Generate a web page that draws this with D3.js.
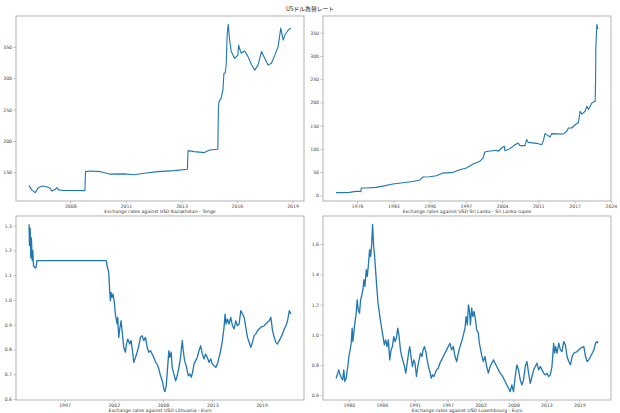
<!DOCTYPE html>
<html><head><meta charset="utf-8">
<script src="https://cdn.jsdelivr.net/npm/d3@7"></script>
<style>body{margin:0;background:#fff} svg{display:block}</style>
</head><body><svg id="c" width="620" height="413"></svg>
<script>
const titleText = "USドル為替レート";

// Kazakhstan - Tenge
const kzLabel = "Exchange rates against USD Kazakhstan - Tenge";
const kzYears = [2006.30,2006.43,2006.60,2006.76,2006.93,2007.17,2007.34,2007.42,2007.59,2007.67,2007.75,2008.00,2008.50,2009.05,2009.08,2009.32,2009.82,2010.31,2010.97,2011.47,2011.96,2012.63,2013.45,2014.10,2014.13,2014.44,2014.94,2015.19,2015.60,2015.63,2015.66,2015.76,2015.85,2015.90,2015.96,2016.01,2016.06,2016.11,2016.18,2016.26,2016.42,2016.59,2016.62,2016.75,2016.92,2017.09,2017.25,2017.42,2017.58,2017.75,2017.91,2018.08,2018.24,2018.41,2018.57,2018.70,2018.82,2018.90,2019.07,2019.20];
const kzValues = [128.7,122,117.6,125.5,128,127,124.5,120,123,125.5,122,121,121,120.8,151,152,151,147,147.5,146,148.5,151,152.7,154.8,184.6,183,181.4,185.6,186.7,254.8,262.8,268,281,308,308,321,369,386,361,342.6,332,337,353,340,343.6,334.6,322,313,321,342.6,332,321,324,337,350.6,380,361,369,377,380];
const kzTickYears = [2008.33,2011.07,2013.81,2016.54,2019.28];
const kzTickLabels = ["2008","2011","2013","2016","2019"];
const kzYTicks = [150,200,250,300,350];

// Sri Lanka - Sri Lanka rupee
const lkLabel = "Exchange rates against USD Sri Lanka - Sri Lanka rupee";
const lkYears = [1972.86,1974.12,1975.38,1976.64,1977.28,1977.55,1977.60,1978.54,1980.43,1981.70,1983.59,1985.48,1987.38,1988.64,1989.27,1990.53,1991.80,1993.06,1994.95,1996.22,1997.48,1998.74,2000.00,2000.63,2000.95,2001.58,2003.16,2003.48,2004.11,2004.61,2004.74,2005.69,2006.63,2007.26,2007.58,2008.53,2008.84,2009.16,2010.74,2011.68,2012.00,2012.31,2012.63,2013.26,2013.58,2015.79,2016.42,2016.73,2017.36,2018.00,2018.63,2018.94,2019.26,2019.89,2020.21,2020.52,2021.15,2021.78,2021.86,2021.91,2022.10,2022.30];
const lkValues = [6.0,6.0,6.5,8.6,8.9,7.9,15.8,15.8,17.2,20,24.4,27.3,30,33,39.5,40.2,42.4,48,49.6,55.3,59,67.5,73.3,80.5,93.4,95,97,95,102,106,96,100.6,109,112.8,107,107,120,114,112,109,117.8,133,130.7,125.7,133,132,138,145,145,152,157,181,175,181,192,184.7,199,202.6,245,317.5,368,358];
const lkTickYears = [1976.84,1983.69,1990.53,1997.38,2004.22,2011.07,2017.91,2024.76];
const lkTickLabels = ["1976","1983","1990","1997","2004","2011","2017","2024"];
const lkYTicks = [0,50,100,150,200,250,300,350];

// Lithuania - Euro
const ltLabel = "Exchange rates against USD Lithuania - Euro";
const ltYears = [1993.44,1993.48,1993.56,1993.63,1993.70,1993.78,1993.85,1993.93,1994.11,1994.22,1994.30,1999.50,2002.03,2002.11,2002.29,2002.40,2002.48,2002.55,2002.66,2002.77,2002.92,2003.03,2003.22,2003.29,2003.41,2003.52,2003.67,2003.78,2003.96,2004.15,2004.26,2004.41,2004.63,2004.78,2004.93,2005.08,2005.27,2005.45,2005.64,2005.82,2006.01,2006.19,2006.38,2006.57,2006.75,2006.94,2007.12,2007.31,2007.50,2007.68,2007.87,2008.05,2008.24,2008.43,2008.54,2008.69,2008.87,2008.98,2009.09,2009.24,2009.35,2009.54,2009.73,2009.91,2010.10,2010.28,2010.47,2010.58,2010.73,2010.95,2011.14,2011.32,2011.47,2011.62,2011.77,2011.96,2012.14,2012.33,2012.51,2012.70,2012.89,2013.07,2013.26,2013.44,2013.63,2013.82,2014.00,2014.19,2014.37,2014.56,2014.74,2014.93,2015.12,2015.23,2015.34,2015.49,2015.67,2015.86,2016.05,2016.23,2016.42,2016.60,2016.79,2016.98,2017.16,2017.35,2017.53,2017.72,2017.90,2018.09,2018.28,2018.46,2018.65,2018.83,2019.21,2019.58,2019.95,2020.14,2020.32,2020.51,2020.69,2020.88,2021.06,2021.25,2021.44,2021.62,2021.81,2021.99,2022.18,2022.37,2022.55];
const ltValues = [1.305,1.22,1.29,1.17,1.25,1.16,1.20,1.138,1.129,1.131,1.159,1.159,1.159,1.138,1.112,1.037,0.997,1.03,1.01,1.024,0.99,0.943,0.903,0.93,0.849,0.883,0.916,0.876,0.809,0.789,0.822,0.842,0.822,0.836,0.795,0.748,0.768,0.789,0.815,0.849,0.856,0.836,0.849,0.809,0.789,0.795,0.782,0.768,0.748,0.741,0.721,0.694,0.674,0.64,0.63,0.654,0.741,0.795,0.768,0.789,0.728,0.701,0.674,0.694,0.728,0.768,0.836,0.795,0.755,0.728,0.694,0.701,0.688,0.708,0.741,0.755,0.768,0.795,0.815,0.782,0.762,0.782,0.768,0.748,0.762,0.741,0.735,0.728,0.741,0.768,0.795,0.836,0.89,0.943,0.903,0.923,0.903,0.93,0.896,0.883,0.916,0.896,0.903,0.957,0.943,0.93,0.89,0.849,0.829,0.809,0.829,0.856,0.863,0.876,0.89,0.896,0.91,0.916,0.93,0.876,0.849,0.829,0.822,0.836,0.849,0.863,0.883,0.896,0.916,0.957,0.943];
const ltTickYears = [1997.38,2002.85,2008.33,2013.81,2019.28];
const ltTickLabels = ["1997","2002","2008","2013","2019"];
const ltYTicks = [0.6,0.7,0.8,0.9,1.0,1.1,1.2,1.3];

// Luxembourg - Euro
const luLabel = "Exchange rates against USD Luxembourg - Euro";
const luYears = [1978.84,1979.12,1979.28,1979.51,1979.73,1979.95,1980.12,1980.29,1980.51,1980.79,1980.96,1981.18,1981.35,1981.51,1981.63,1981.79,1981.96,1982.18,1982.35,1982.52,1982.74,1982.91,1983.13,1983.30,1983.46,1983.63,1983.86,1984.02,1984.19,1984.41,1984.58,1984.75,1984.91,1985.08,1985.25,1985.42,1985.64,1985.81,1985.97,1986.20,1986.42,1986.64,1986.87,1987.09,1987.31,1987.53,1987.76,1987.98,1988.20,1988.43,1988.65,1988.87,1989.09,1989.32,1989.54,1989.76,1989.99,1990.21,1990.43,1990.66,1990.88,1991.08,1991.30,1991.53,1991.75,1991.97,1992.20,1992.42,1992.64,1992.87,1993.09,1993.31,1993.53,1993.76,1993.98,1994.20,1994.43,1994.65,1994.87,1995.09,1995.32,1995.54,1995.82,1996.10,1996.38,1996.66,1996.93,1997.21,1997.49,1997.77,1998.05,1998.33,1998.61,1998.89,1999.16,1999.44,1999.72,2000.00,2000.28,2000.45,2000.67,2000.84,2001.00,2001.17,2001.39,2001.56,2001.78,2002.01,2002.21,2002.49,2002.66,2002.88,2003.10,2003.32,2003.60,2003.88,2004.16,2004.44,2004.72,2005.00,2005.28,2005.55,2005.83,2006.11,2006.39,2006.67,2006.95,2007.23,2007.51,2007.78,2008.06,2008.34,2008.62,2008.90,2009.18,2009.46,2009.73,2010.01,2010.29,2010.57,2010.85,2011.13,2011.41,2011.69,2011.96,2012.24,2012.52,2012.80,2013.08,2013.36,2013.62,2013.90,2014.17,2014.45,2014.73,2015.01,2015.18,2015.34,2015.57,2015.85,2016.13,2016.40,2016.68,2016.96,2017.24,2017.52,2017.80,2018.08,2018.35,2018.91,2019.47,2020.03,2020.31,2020.58,2020.86,2021.14,2021.42,2021.70,2021.98,2022.26,2022.37];
const luValues = [0.713,0.746,0.768,0.735,0.713,0.702,0.768,0.691,0.713,0.79,0.856,0.90,0.944,1.044,0.955,1.011,1.077,1.143,1.231,1.165,1.143,1.231,1.264,1.298,1.364,1.32,1.43,1.386,1.452,1.562,1.518,1.596,1.73,1.585,1.518,1.419,1.298,1.209,1.165,1.099,1.044,0.989,0.933,0.966,0.922,0.966,0.834,0.90,0.922,0.989,0.955,0.977,1.044,0.989,0.90,0.856,0.823,0.79,0.746,0.812,0.878,0.922,0.856,0.79,0.834,0.812,0.724,0.79,0.834,0.878,0.856,0.90,0.922,0.889,0.834,0.79,0.757,0.713,0.735,0.724,0.746,0.768,0.779,0.812,0.834,0.856,0.878,0.90,0.922,0.944,0.90,0.922,0.856,0.823,0.878,0.922,0.955,0.999,1.044,1.121,1.066,1.198,1.165,1.066,1.176,1.121,1.154,1.099,1.033,1.011,0.944,0.90,0.856,0.823,0.856,0.79,0.746,0.79,0.812,0.834,0.812,0.79,0.768,0.746,0.735,0.713,0.691,0.668,0.646,0.624,0.668,0.624,0.724,0.801,0.768,0.702,0.668,0.702,0.79,0.823,0.746,0.679,0.724,0.768,0.79,0.812,0.768,0.79,0.768,0.746,0.735,0.746,0.724,0.735,0.79,0.944,0.878,0.922,0.878,0.944,0.90,0.889,0.955,0.933,0.856,0.823,0.801,0.856,0.878,0.889,0.911,0.922,0.856,0.823,0.834,0.856,0.878,0.90,0.944,0.955,0.944];
const luTickYears = [1980.95,1986.43,1991.90,1997.38,2002.85,2008.33,2013.81,2019.28];
const luTickLabels = ["1980","1986","1991","1997","2002","2008","2013","2019"];
const luYTicks = [0.6,0.8,1.0,1.2,1.4,1.6];

const lineColor = "#1f77b4";
const svg = d3.select("#c");
const latin = "DejaVu Sans, sans-serif";

svg.append("text").attr("x", 310).attr("y", 11).attr("text-anchor", "middle")
  .attr("font-family", "Noto Sans CJK JP, sans-serif").attr("font-size", 5.8).attr("fill", "#222")
  .text(titleText);

const panels = [
  {years: kzYears, values: kzValues, label: kzLabel, xt: kzTickYears, xl: kzTickLabels, yt: kzYTicks, fmt: d3.format("d"), box: [16, 16, 304, 201], sw: 1.1},
  {years: lkYears, values: lkValues, label: lkLabel, xt: lkTickYears, xl: lkTickLabels, yt: lkYTicks, fmt: d3.format("d"), box: [323, 16, 611, 201], sw: 1.1},
  {years: ltYears, values: ltValues, label: ltLabel, xt: ltTickYears, xl: ltTickLabels, yt: ltYTicks, fmt: d3.format(".1f"), box: [16, 216, 304, 400], sw: 1.3},
  {years: luYears, values: luValues, label: luLabel, xt: luTickYears, xl: luTickLabels, yt: luYTicks, fmt: d3.format(".1f"), box: [323, 216, 611, 400], sw: 1.3}
];

function padded(ext) { const p = (ext[1] - ext[0]) * 0.05; return [ext[0] - p, ext[1] + p]; }

panels.forEach(p => {
  const [x0, y0, x1, y1] = p.box;
  const x = d3.scaleLinear().domain(padded(d3.extent(p.years))).range([x0, x1]);
  const y = d3.scaleLinear().domain(padded(d3.extent(p.values))).range([y1, y0]);
  const data = p.years.map((t, i) => [t, p.values[i]]);
  const g = svg.append("g");

  g.append("path").datum(data)
    .attr("fill", "none").attr("stroke", lineColor).attr("stroke-width", p.sw)
    .attr("stroke-linejoin", "round")
    .attr("d", d3.line().x(d => x(d[0])).y(d => y(d[1])));

  const xa = g.append("g").attr("transform", `translate(0,${y1})`)
    .call(d3.axisBottom(x).tickValues(p.xt).tickFormat((d, i) => p.xl[i]).tickSize(2.5).tickPadding(1.5));
  const ya = g.append("g").attr("transform", `translate(${x0},0)`)
    .call(d3.axisLeft(y).tickValues(p.yt).tickFormat(p.fmt).tickSize(2.5).tickPadding(1.5));
  [xa, ya].forEach(a => {
    a.select(".domain").remove();
    a.selectAll("line").attr("stroke", "#999").attr("stroke-width", 0.6);
    a.selectAll("text").attr("font-family", latin).attr("font-size", 4.6).attr("fill", "#444");
  });

  g.append("rect").attr("x", x0).attr("y", y0).attr("width", x1 - x0).attr("height", y1 - y0)
    .attr("fill", "none").attr("stroke", "#aaa").attr("stroke-width", 0.9);

  g.append("text").attr("x", (x0 + x1) / 2).attr("y", y1 + 12.4).attr("text-anchor", "middle")
    .attr("font-family", latin).attr("font-size", 4.6).attr("fill", "#333").text(p.label);
});
</script></body></html>
